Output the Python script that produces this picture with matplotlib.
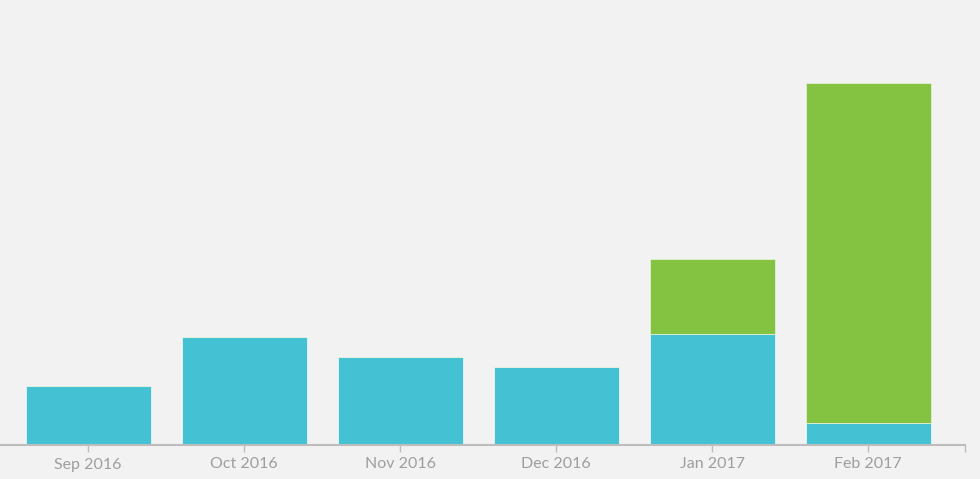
import matplotlib
matplotlib.use("Agg")
import matplotlib.pyplot as plt
import numpy as np

months = ["Sep 2016", "Oct 2016", "Nov 2016", "Dec 2016", "Jan 2017", "Feb 2017"]
series_blue = [59, 108, 88, 78, 111, 22]
series_green = [0, 0, 0, 0, 75, 340]

bg = "#F2F2F2"
fig = plt.figure(figsize=(9.8, 4.79), dpi=100, facecolor=bg)
ax = fig.add_axes([0, 34/479, 965/980, 445/479], facecolor=bg)

x = np.arange(len(months))
w = 125/156
ax.bar(x, series_blue, width=w, color="#44C2D3", edgecolor="#E6F4F6", linewidth=0.6)
ax.bar(x, series_green, width=w, bottom=series_blue, color="#83C341", edgecolor="#E3EFD8", linewidth=0.6)

ax.set_xlim(-88/156, (965-88)/156)
ax.set_ylim(0, 445)
for s in ["top", "left", "right"]:
    ax.spines[s].set_visible(False)
ax.spines["bottom"].set_color("#BDBDBD")
ax.spines["bottom"].set_linewidth(1.5)
ax.set_yticks([])
ax.set_xticks(list(x) + [(965-88)/156 - 0.003])
ax.set_xticklabels(months + [""], fontsize=11.5, color="#9E9E9E", family=["Lato", "DejaVu Sans"])
ax.tick_params(axis="x", length=5, width=1, color="#BDBDBD", pad=4)

fig.savefig("out.png", dpi=100, facecolor=bg)
